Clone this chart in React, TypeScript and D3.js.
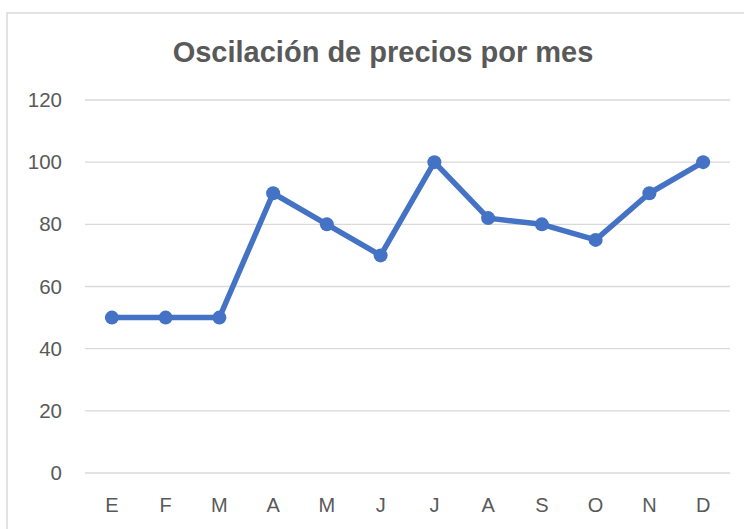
import React from "react";
import * as d3 from "d3";

const months = ["E", "F", "M", "A", "M", "J", "J", "A", "S", "O", "N", "D"];
const prices = [50, 50, 50, 90, 80, 70, 100, 82, 80, 75, 90, 100];
const yTicks = [0, 20, 40, 60, 80, 100, 120];
const title = "Oscilación de precios por mes";

export default function App() {
  const W = 744;
  const H = 529;
  const left = 85;
  const right = 730;
  const top = 100;
  const bottom = 473;
  const idx = months.map((_, i) => i);
  const x = d3.scaleBand<number>().domain(idx).range([left, right]);
  const y = d3.scaleLinear().domain([0, 120]).range([bottom, top]);
  const cx = (i: number) => (x(i) as number) + x.bandwidth() / 2;
  const line = d3
    .line<number>()
    .x((_, i) => cx(i))
    .y((d) => y(d));
  const grey = "#595959";
  return (
    <svg
      width={W}
      height={H}
      style={{ position: "absolute", left: 0, top: 0 }}
    >
      <rect x={0} y={0} width={W} height={H} fill="#fff" />
      <rect
        x={7}
        y={13}
        width={W + 20}
        height={H + 20}
        fill="#fff"
        stroke="#d9d9d9"
        strokeWidth={1.5}
      />
      <text
        x={383}
        y={62}
        textAnchor="middle"
        fontFamily="Liberation Sans, Arial, sans-serif"
        fontWeight="bold"
        fontSize={29}
        fill={grey}
      >
        {title}
      </text>
      {yTicks.map((t) => (
        <g key={t}>
          <line
            x1={left}
            x2={right}
            y1={y(t)}
            y2={y(t)}
            stroke="#d9d9d9"
            strokeWidth={1.3}
          />
          <text
            x={62}
            y={y(t) + 7}
            textAnchor="end"
            fontFamily="Liberation Sans, Arial, sans-serif"
            fontSize={20.5}
            fill={grey}
          >
            {t}
          </text>
        </g>
      ))}
      {months.map((m, i) => (
        <text
          key={i}
          x={cx(i)}
          y={512}
          textAnchor="middle"
          fontFamily="Liberation Sans, Arial, sans-serif"
          fontSize={20}
          fill={grey}
        >
          {m}
        </text>
      ))}
      <path
        d={line(prices) || ""}
        fill="none"
        stroke="#4472C4"
        strokeWidth={5.5}
        strokeLinejoin="round"
      />
      {prices.map((p, i) => (
        <circle key={i} cx={cx(i)} cy={y(p)} r={7} fill="#4472C4" />
      ))}
    </svg>
  );
}
